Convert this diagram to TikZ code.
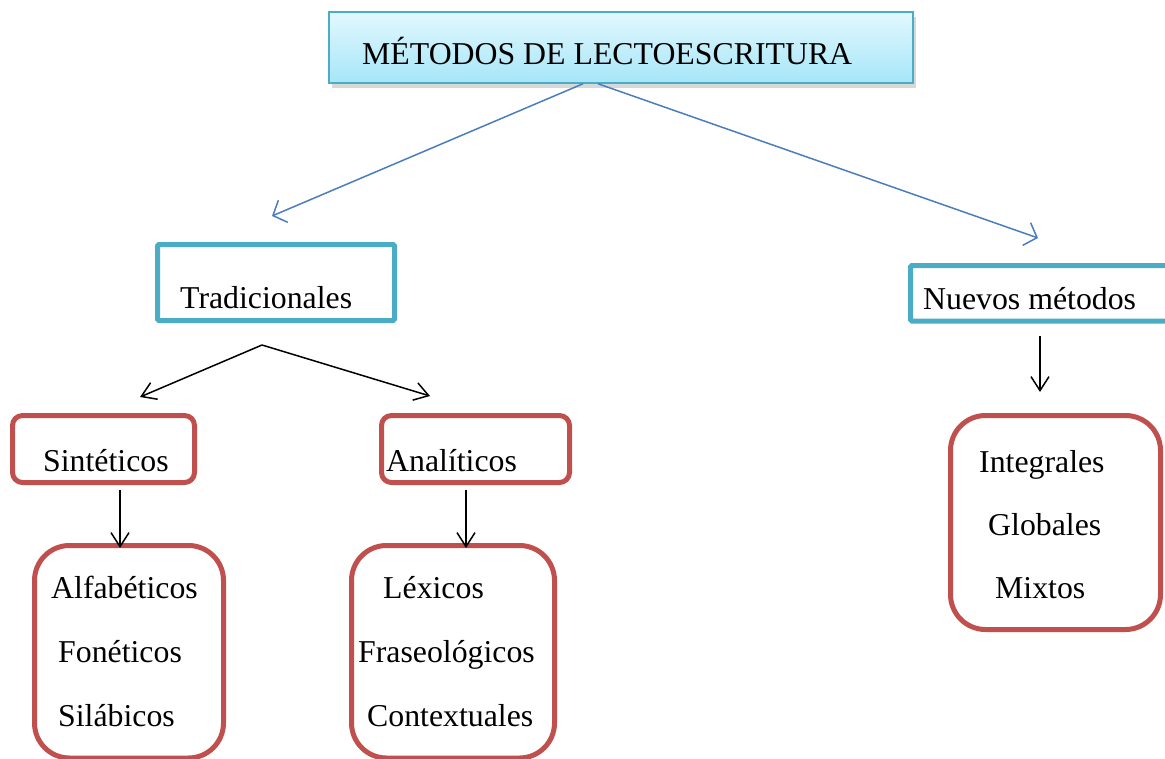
\documentclass[tikz,border=0pt]{standalone}
\usepackage{fontspec}
\setmainfont{Liberation Serif}
\usetikzlibrary{arrows.meta,shadows}
\definecolor{boxblue}{HTML}{4BACC6}
\definecolor{boxred}{HTML}{C0504D}
\definecolor{arrblue}{HTML}{4A7EBB}
\definecolor{toptop}{HTML}{E2F8FE}
\definecolor{topbot}{HTML}{A6E6F8}
\begin{document}
\begin{tikzpicture}[x=1pt,y=-1pt,
  bluebox/.style={draw=boxblue, line width=5pt, rounded corners=1.5pt, inner sep=0pt, minimum width=#1},
  redbox/.style={draw=boxred, line width=5pt, inner sep=0pt},
  lbl/.style={anchor=base west, inner sep=0pt, font=\fontsize{31.8}{38}\selectfont},
  barrow/.style={draw=arrblue, line width=1.5pt, -{Straight Barb[length=11pt,width=24pt,line width=1.5pt]}},
  karrow/.style={draw=black, line width=1.5pt, -{Straight Barb[length=14pt,width=18pt,line width=1.5pt]}}]
\clip (0,0) rectangle (1165,758);
\fill[white] (0,0) rectangle (1165,758);
% top box
\node[draw=boxblue, line width=1.5pt, top color=toptop, bottom color=topbot,
      drop shadow={shadow xshift=3pt,shadow yshift=-5pt,opacity=0.3},
      minimum width=584pt, minimum height=71pt, inner sep=0pt] (top) at (621,47.5) {};
\node[lbl] (toptxt) at (362,64) {MÉTODOS DE LECTOESCRITURA};
% second level
\node[bluebox=237pt, minimum height=76pt] (trad) at (276,282.5) {};
\node[lbl] (tradtxt) at (180,308) {Tradicionales};
\node[bluebox=264.5pt, minimum height=55.5pt] (nuev) at (1042.75,293.25) {};
\node[lbl] (nuevtxt) at (923,309) {Nuevos métodos};
% third level
\node[redbox, rounded corners=10pt, minimum width=182pt, minimum height=67pt] (sint) at (103.5,449) {};
\node[lbl] (sinttxt) at (43,471) {Sintéticos};
\node[redbox, rounded corners=10pt, minimum width=188pt, minimum height=67pt] (anal) at (475.5,449) {};
\node[lbl] (analtxt) at (386,471) {Analíticos};
% lists
\node[redbox, rounded corners=35pt, minimum width=189pt, minimum height=212.5pt] (alf) at (129,651.75) {};
\node[lbl] (a1) at (51,598) {Alfabéticos};
\node[lbl] (a2) at (58,662) {Fonéticos};
\node[lbl] (a3) at (58,726) {Silábicos};
\node[redbox, rounded corners=35pt, minimum width=203pt, minimum height=212.5pt] (lex) at (453,651.75) {};
\node[lbl] (l1) at (383,598) {Léxicos};
\node[lbl] (l2) at (358,662) {Fraseológicos};
\node[lbl] (l3) at (367,726) {Contextuales};
\node[redbox, rounded corners=35pt, minimum width=210pt, minimum height=214pt] (integ) at (1055.5,522.5) {};
\node[lbl] (i1) at (979,472) {Integrales};
\node[lbl] (i2) at (988,535) {Globales};
\node[lbl] (i3) at (995,598) {Mixtos};
% connector end points
\coordinate (tl) at (272,216);
\coordinate (tr) at (1038,238);
\coordinate (tb) at (262,345);
\coordinate (sl) at (140,397);
\coordinate (sr) at (430,396);
\coordinate (sd) at (120,548);
\coordinate (ad) at (466,548);
\coordinate (nt) at (1040,336);
\coordinate (nd) at (1040,392);
% connectors
\draw[barrow] ([xshift=-38pt]top.south) -- (tl);
\draw[barrow] ([xshift=-23pt]top.south) -- (tr);
\draw[karrow] (tb) -- (sl);
\draw[karrow] (tb) -- (sr);
\draw[karrow] ([xshift=16.5pt,yshift=-5pt]sint.south) -- (sd);
\draw[karrow] ([xshift=-9.5pt,yshift=-5pt]anal.south) -- (ad);
\draw[karrow] (nt) -- (nd);
\end{tikzpicture}
\end{document}
